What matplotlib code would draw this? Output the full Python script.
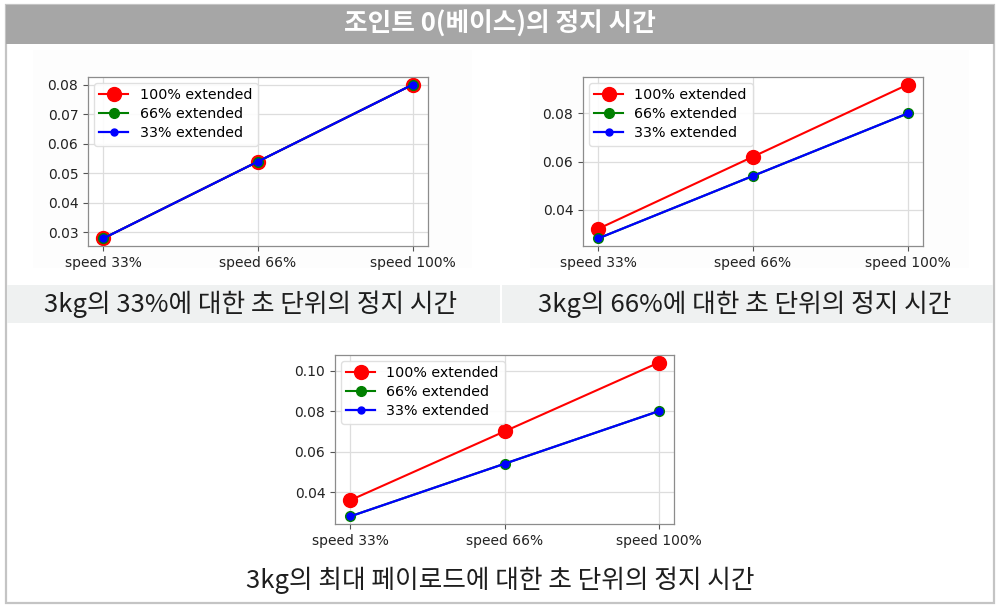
import matplotlib
matplotlib.use("Agg")
import matplotlib.pyplot as plt
from matplotlib.patches import Rectangle
from matplotlib.ticker import MultipleLocator, FormatStrFormatter

plt.rcParams['font.family'] = ['DejaVu Sans']

# data
speeds = ["speed 33%", "speed 66%", "speed 100%"]
series_names = ["100% extended", "66% extended", "33% extended"]

# 3kg payload at 33%
p33_ext100 = [0.028, 0.054, 0.080]
p33_ext66 = [0.028, 0.054, 0.080]
p33_ext33 = [0.028, 0.054, 0.080]

# 3kg payload at 66%
p66_ext100 = [0.032, 0.062, 0.092]
p66_ext66 = [0.028, 0.054, 0.080]
p66_ext33 = [0.028, 0.054, 0.080]

# max payload
pmax_ext100 = [0.036, 0.070, 0.104]
pmax_ext66 = [0.028, 0.054, 0.080]
pmax_ext33 = [0.028, 0.054, 0.080]

title_text = "조인트 0(베이스)의 정지 시간"
captions = [
    "3kg의 33%에 대한 초 단위의 정지 시간",
    "3kg의 66%에 대한 초 단위의 정지 시간",
    "3kg의 최대 페이로드에 대한 초 단위의 정지 시간",
]

KR = ['Noto Sans CJK KR', 'DejaVu Sans']

fig = plt.figure(figsize=(10, 6.07), dpi=100)

# background layer in pixel coordinates
bg = fig.add_axes([0, 0, 1, 1], zorder=-10)
bg.set_xlim(0, 1000)
bg.set_ylim(607, 0)
bg.axis("off")

# outer frame
bg.add_patch(Rectangle((5.5, 4.5), 988, 598.5, facecolor="white",
                       edgecolor="#c4c4c4", linewidth=1.6))
# header bar
bg.add_patch(Rectangle((5.5, 4.5), 988, 39, facecolor="#a6a6a6", edgecolor="none"))
bg.text(500, 24, title_text, color="white", fontsize=18.5, fontweight="bold",
        ha="center", va="center", family=KR)

# faint plot image backgrounds
bg.add_patch(Rectangle((33, 50), 439, 218, facecolor="#fdfdfd", edgecolor="none"))
bg.add_patch(Rectangle((530, 50), 439, 218, facecolor="#fdfdfd", edgecolor="none"))

# caption bands
bg.add_patch(Rectangle((7, 285), 493, 38, facecolor="#eff1f1", edgecolor="none"))
bg.add_patch(Rectangle((501.5, 285), 491, 38, facecolor="#eff1f1", edgecolor="none"))

bg.text(251, 304, captions[0], fontsize=18.5, color="#1e1e1e",
        ha="center", va="center", family=KR)
bg.text(745, 304, captions[1], fontsize=18.5, color="#1e1e1e",
        ha="center", va="center", family=KR)
bg.text(500, 580, captions[2], fontsize=18.5, color="#1e1e1e",
        ha="center", va="center", family=KR)


def draw_panel(rect, ext100, ext66, ext33, step):
    ax = fig.add_axes(rect)
    x = range(len(speeds))
    ax.plot(x, ext100, color="red", marker="o", markersize=10, linewidth=1.5,
            label=series_names[0])
    ax.plot(x, ext66, color="green", marker="o", markersize=7, linewidth=1.5,
            label=series_names[1])
    ax.plot(x, ext33, color="blue", marker="o", markersize=5, linewidth=1.6,
            label=series_names[2])
    ax.set_xticks(list(x))
    ax.set_xticklabels(speeds)
    ax.yaxis.set_major_locator(MultipleLocator(step))
    ax.yaxis.set_major_formatter(FormatStrFormatter("%.2f"))
    ax.tick_params(labelsize=10, length=3.5, width=0.8,
                   colors="#555555", labelcolor="#222222")
    ax.grid(True, color="#dddddd", linewidth=0.9)
    ax.set_axisbelow(True)
    for s in ax.spines.values():
        s.set_color("#8c8c8c")
        s.set_linewidth(0.9)
    leg = ax.legend(loc="upper left", fontsize=10.3, framealpha=0.9,
                    borderaxespad=0.4, handlelength=2.0, labelspacing=0.35)
    leg.get_frame().set_edgecolor("#dddddd")
    return ax


draw_panel([0.088, 1 - 246 / 607, 0.340, 169 / 607], p33_ext100, p33_ext66, p33_ext33, 0.01)
draw_panel([0.583, 1 - 246 / 607, 0.340, 169 / 607], p66_ext100, p66_ext66, p66_ext33, 0.02)
draw_panel([0.335, 1 - 524 / 607, 0.339, 169 / 607], pmax_ext100, pmax_ext66, pmax_ext33, 0.02)

plt.savefig("out.png", dpi=100)
